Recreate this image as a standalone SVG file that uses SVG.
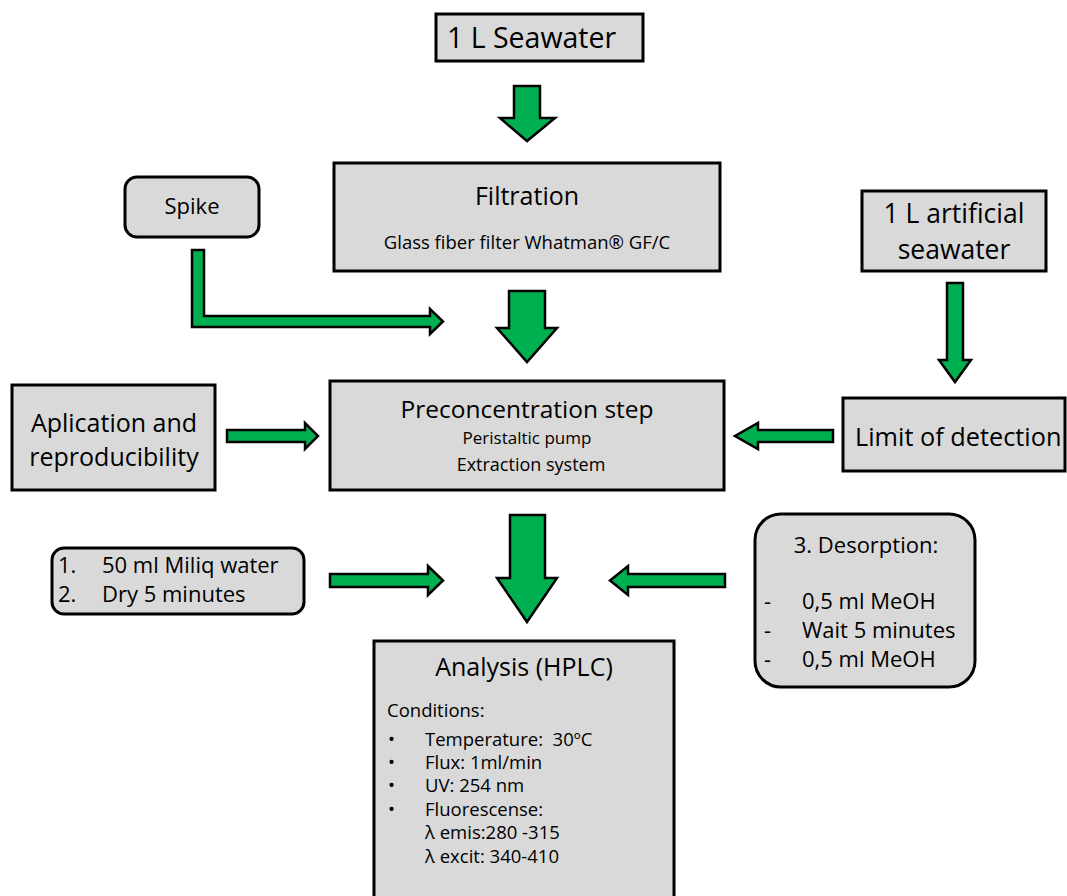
<svg xmlns="http://www.w3.org/2000/svg" width="1067" height="896" viewBox="0 0 1067 896">
<style>
.box{fill:#d9d9d9;stroke:#000;stroke-width:3}
.arr{fill:#00b050;stroke:#000;stroke-width:2.5;stroke-linejoin:miter}
text{font-family:"Open Sans","Liberation Sans",sans-serif;fill:#000}
.big{font-size:25px}
.mid{font-size:22px}
.cond{font-size:18.5px}
.c{text-anchor:middle}
</style>
<rect width="1067" height="896" fill="#fff"/>
<g id="seawater">
<rect class="box" x="436" y="14" width="207" height="47"/>
<text x="447" y="48" font-size="28.5">1 L Seawater</text>
</g>
<g id="filtration">
<rect class="box" x="334" y="163" width="386" height="108"/>
<text class="c" x="527" y="205" font-size="25">Filtration</text>
<text class="c" x="527" y="249" font-size="18.5">Glass fiber filter Whatman® GF/C</text>
</g>
<g id="spike">
<rect class="box" x="125" y="177" width="134" height="60" rx="12"/>
<text class="c" x="192" y="214" font-size="22">Spike</text>
</g>
<g id="artificial">
<rect class="box" x="862" y="191" width="184" height="80"/>
<text class="c" x="954" y="222.5" font-size="26.5">1 L artificial</text>
<text class="c" x="954" y="259" font-size="26.5">seawater</text>
</g>
<g id="limit">
<rect class="box" x="843" y="398" width="222" height="73"/>
<text x="855" y="446" font-size="25.3">Limit of detection</text>
</g>
<g id="preconcentration">
<rect class="box" x="330" y="381" width="394" height="109"/>
<text class="c" x="527" y="418" font-size="24.5">Preconcentration step</text>
<text class="c" x="527" y="444" font-size="17">Peristaltic pump</text>
<text class="c" x="531" y="471" font-size="18">Extraction system</text>
</g>
<g id="aplication">
<rect class="box" x="12" y="385" width="203" height="105"/>
<text class="c big" x="114" y="432">Aplication and</text>
<text class="c big" x="114" y="466">reproducibility</text>
</g>
<g id="miliq">
<rect class="box" x="52" y="548" width="252" height="66" rx="12"/>
<text class="mid" x="58" y="573">1.</text>
<text class="mid" x="102" y="573">50 ml Miliq water</text>
<text class="mid" x="58" y="602">2.</text>
<text class="mid" x="102" y="602">Dry 5 minutes</text>
</g>
<g id="desorption">
<rect class="box" x="755" y="514" width="220" height="173" rx="26"/>
<text class="c mid" x="866" y="553">3. Desorption:</text>
<text class="mid" x="764" y="609">-</text>
<text class="mid" x="802" y="609">0,5 ml MeOH</text>
<text class="mid" x="764" y="638">-</text>
<text class="mid" x="802" y="638">Wait 5 minutes</text>
<text class="mid" x="764" y="667">-</text>
<text class="mid" x="802" y="667">0,5 ml MeOH</text>
</g>
<g id="analysis">
<rect class="box" x="374" y="641" width="300" height="270"/>
<text class="c big" x="524" y="676">Analysis (HPLC)</text>
<text class="cond" x="387" y="717">Conditions:</text>
<text class="cond" x="388" y="746">•</text>
<text class="cond" x="425" y="746">Temperature:&#160; 30ºC</text>
<text class="cond" x="388" y="769">•</text>
<text class="cond" x="425" y="769">Flux: 1ml/min</text>
<text class="cond" x="388" y="792">•</text>
<text class="cond" x="425" y="792">UV: 254 nm</text>
<text class="cond" x="388" y="816">•</text>
<text class="cond" x="425" y="816">Fluorescense:</text>
<text class="cond" x="425" y="839">λ emis:280 -315</text>
<text class="cond" x="425" y="863">λ excit: 340-410</text>
</g>
<g id="connectors">
<path class="arr" d="M514,86 H540 V118 H555 L527,141 L500,118 H514 Z"/>
<path class="arr" d="M192,250 H204 V316 H430 V309 L443,321.5 L430,334 V327 H192 Z"/>
<path class="arr" d="M509,291 H545 V328 H557 L527,362 L497,328 H509 Z"/>
<path class="arr" d="M947,283 H963 V360 H971 L955,382 L939,360 H947 Z"/>
<path class="arr" d="M833,430 H758 V423 L735,436 L758,449 V442 H833 Z"/>
<path class="arr" d="M227,430 H305 V423 L318,436 L305,449 V442 H227 Z"/>
<path class="arr" d="M510,515 H545 V578 H557 L527,622 L497,578 H510 Z"/>
<path class="arr" d="M330,574 H428 V566 L443,580.5 L428,595 V587 H330 Z"/>
<path class="arr" d="M725,574 H628 V566 L610,580.5 L628,595 V587 H725 Z"/>
</g>
</svg>
